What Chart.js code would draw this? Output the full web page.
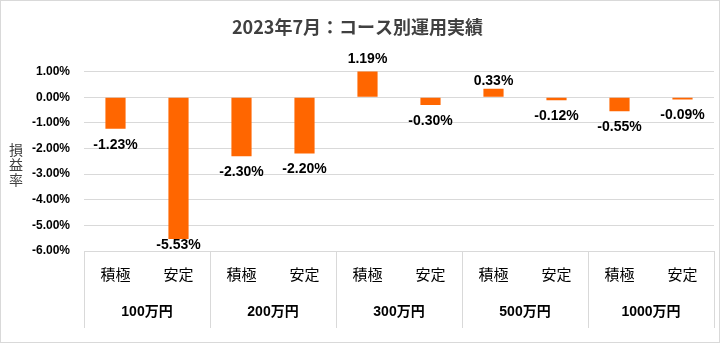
<!DOCTYPE html>
<html lang="ja">
<head>
<meta charset="utf-8">
<title>2023年7月：コース別運用実績</title>
<script src="https://cdn.jsdelivr.net/npm/chart.js@4.4.1/dist/chart.umd.min.js"></script>
<style>
  html, body { margin: 0; padding: 0; background: #fff; }
  #wrap {
    width: 720px; height: 343px; box-sizing: border-box;
    border: 1px solid #d9d9d9; position: relative;
  }
</style>
</head>
<body>
<div id="wrap"><canvas id="chart"></canvas></div>
<script>
// Data
const courses = ['積極', '安定', '積極', '安定', '積極', '安定', '積極', '安定', '積極', '安定'];
const groups = ['100万円', '200万円', '300万円', '500万円', '1000万円'];
const returns = [-1.23, -5.53, -2.30, -2.20, 1.19, -0.30, 0.33, -0.12, -0.55, -0.09];
const yTitle = ['損', '益', '率'];

const cjk = '"Liberation Sans", "Noto Sans CJK JP", sans-serif';

// value labels under/over the bars
const barLabels = {
    id: 'barLabels',
    afterDatasetsDraw(chart) {
        const ctx = chart.ctx;
        const meta = chart.getDatasetMeta(0);
        const area = chart.chartArea;
        ctx.save();
        ctx.font = 'bold 14px "Liberation Sans", sans-serif';
        ctx.fillStyle = '#000';
        ctx.textAlign = 'center';
        ctx.textBaseline = 'middle';
        meta.data.forEach((bar, i) => {
            const v = returns[i];
            let y;
            if (v >= 0) {
                y = bar.y - 8;
            } else {
                y = Math.min(bar.y + 16, area.bottom - 6);
            }
            ctx.fillText(v.toFixed(2) + '%', bar.x, y);
        });
        ctx.restore();
    }
};

// group separators and stacked axis title
const extras = {
    id: 'extras',
    afterDraw(chart) {
        const ctx = chart.ctx;
        const x = chart.scales.x;
        const x2 = chart.scales.x2;
        const area = chart.chartArea;
        ctx.save();
        ctx.strokeStyle = '#d9d9d9';
        ctx.lineWidth = 1;
        for (let i = 0; i <= groups.length; i++) {
            const px = Math.round(x.left + (x.right - x.left) * i / groups.length) + 0.5;
            ctx.beginPath();
            ctx.moveTo(px, area.bottom);
            ctx.lineTo(px, x2.bottom);
            ctx.stroke();
        }
        // vertical "損益率"
        ctx.font = '14px "Noto Sans CJK JP", sans-serif';
        ctx.fillStyle = '#404040';
        ctx.textAlign = 'center';
        ctx.textBaseline = 'middle';
        const mid = (area.top + area.bottom) / 2 + 3;
        yTitle.forEach((ch, i) => {
            ctx.fillText(ch, 15, mid + (i - 1) * 15);
        });
        ctx.restore();
    }
};

new Chart(document.getElementById('chart'), {
    type: 'bar',
    data: {
        labels: courses,
        datasets: [{
            data: returns,
            backgroundColor: '#FF6600',
            barPercentage: 0.32,
            categoryPercentage: 1.0
        }]
    },
    options: {
        responsive: true,
        maintainAspectRatio: false,
        animation: false,
        layout: { padding: { left: 0, right: 5, top: 0, bottom: 14 } },
        plugins: {
            legend: { display: false },
            tooltip: { enabled: false },
            title: {
                display: true,
                text: '2023年7月：コース別運用実績',
                color: '#404040',
                font: { family: '"Noto Sans CJK JP", sans-serif', size: 18, weight: 'bold', lineHeight: 1.2 },
                padding: { top: 15, bottom: 34 }
            }
        },
        scales: {
            y: {
                min: -6,
                max: 1,
                ticks: {
                    stepSize: 1,
                    padding: 14,
                    color: '#000',
                    font: { family: '"Liberation Sans", sans-serif', size: 12, weight: 'bold' },
                    callback: v => v.toFixed(2) + '%'
                },
                grid: { color: '#d9d9d9', drawTicks: false },
                border: { display: false },
                afterFit(scale) { scale.width = 83; }
            },
            x: {
                weight: 0,
                grid: { display: false },
                border: { display: false },
                ticks: {
                    padding: 6,
                    color: '#000',
                    maxRotation: 0,
                    font: { family: '"Noto Sans CJK JP", sans-serif', size: 15 }
                },
                afterFit(scale) { scale.height = 41; }
            },
            x2: {
                type: 'category',
                position: 'bottom',
                weight: 1,
                labels: groups,
                offset: true,
                grid: { display: false },
                border: { display: false },
                ticks: {
                    padding: 4,
                    color: '#000',
                    maxRotation: 0,
                    font: { family: cjk, size: 14, weight: 'bold' }
                },
                afterFit(scale) { scale.height = 36; }
            }
        }
    },
    plugins: [barLabels, extras]
});
</script>
</body>
</html>
